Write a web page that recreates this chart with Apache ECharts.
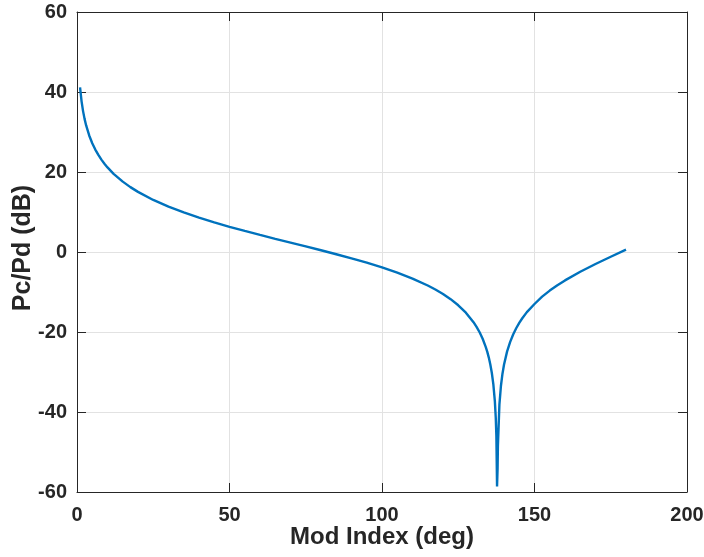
<!DOCTYPE html>
<html>
<head>
<meta charset="utf-8">
<script src="https://cdn.jsdelivr.net/npm/echarts@6/dist/echarts.min.js"></script>
<style>
  html, body { margin: 0; padding: 0; background: #ffffff; }
  #chart { width: 704px; height: 557px; }
</style>
</head>
<body>
<div id="chart"></div>
<script>
// Carrier-to-data power ratio versus modulation index
const modIndexDeg = [
  1, 1.5, 2, 2.5, 3, 4, 5, 6, 7, 8, 9, 10, 12, 15, 17.5, 20, 25, 30, 35, 40,
  45, 50, 55, 60, 65, 70, 75, 80, 85, 90, 95, 100, 105, 110, 115, 117.5, 120, 122.5, 125,
  127.5, 130, 131, 132, 133, 134, 134.5, 135, 135.5, 136, 136.5, 137, 137.3, 137.5, 137.72,
  137.9, 138, 138.5, 139, 139.5, 140, 141, 142, 143, 144, 145, 146, 147.5, 150, 152.5, 155,
  157.5, 160, 165, 170, 175, 180
];
const ratioDb = [
  41.18, 37.66, 35.16, 33.22, 31.64, 29.14, 27.19, 25.61, 24.27, 23.10, 22.07, 21.15, 19.55, 17.59, 16.22, 15.03, 13.01, 11.33, 9.88, 8.58,
  7.40, 6.30, 5.27, 4.27, 3.30, 2.35, 1.40, 0.43, -0.56, -1.59, -2.68, -3.86, -5.17, -6.64, -8.37, -9.38, -10.50, -11.79, -13.32,
  -15.17, -17.54, -18.71, -20.07, -21.70, -23.71, -24.92, -26.34, -28.05, -30.18, -33.01, -37.27, -41.44, -46.03, -58.6,
  -54.05, -48.56, -38.07, -33.44, -30.43, -28.19, -24.91, -22.52, -20.63, -19.07, -17.73, -16.56, -15.03, -13.00, -11.17, -9.65,
  -8.32, -7.10, -4.94, -3.00, -1.18, 0.58
];

const xTicks = { min: 0, max: 200, step: 50 };
const yTicks = { min: -60, max: 60, step: 20 };

const axisInk = '#262626';
const gridInk = '#e2e2e2';
const font = 'Liberation Sans, Arial, Helvetica, sans-serif';

const points = modIndexDeg.map((d, i) => [d, ratioDb[i]]);

const chart = echarts.init(document.getElementById('chart'), null, { renderer: 'canvas' });

const tickStyle = { show: true, inside: true, length: 9, lineStyle: { color: axisInk, width: 1 } };

chart.setOption({
  animation: false,
  backgroundColor: '#ffffff',
  grid: { left: 77, right: 17, top: 12, bottom: 65, containLabel: false, outerBoundsMode: 'none' },
  xAxis: [
    {
      type: 'value',
      min: xTicks.min, max: xTicks.max, interval: xTicks.step,
      name: 'Mod Index (deg)',
      nameLocation: 'middle',
      nameGap: 33,
      nameMoveOverlap: false,
      nameTextStyle: { fontFamily: font, fontWeight: 'bold', fontSize: 24, color: axisInk },
      axisLine: { show: true, onZero: false, lineStyle: { color: axisInk, width: 1 } },
      axisTick: tickStyle,
      axisLabel: { margin: 13, fontFamily: font, fontWeight: 'bold', fontSize: 20, color: axisInk },
      splitLine: { show: true, lineStyle: { color: gridInk, width: 1 } }
    },
    {
      type: 'value', position: 'top',
      min: xTicks.min, max: xTicks.max, interval: xTicks.step,
      axisLine: { show: true, onZero: false, lineStyle: { color: axisInk, width: 1 } },
      axisTick: tickStyle,
      axisLabel: { show: false },
      splitLine: { show: false }
    }
  ],
  yAxis: [
    {
      type: 'value',
      min: yTicks.min, max: yTicks.max, interval: yTicks.step,
      name: 'Pc/Pd (dB)',
      nameLocation: 'middle',
      nameGap: 41,
      nameMoveOverlap: false,
      nameTextStyle: { fontFamily: font, fontWeight: 'bold', fontSize: 25, color: axisInk, padding: [0, 0, 0, 8] },
      axisLine: { show: true, onZero: false, lineStyle: { color: axisInk, width: 1 } },
      axisTick: tickStyle,
      axisLabel: { margin: 10, fontFamily: font, fontWeight: 'bold', fontSize: 20, color: axisInk },
      splitLine: { show: true, lineStyle: { color: gridInk, width: 1 } }
    },
    {
      type: 'value', position: 'right',
      min: yTicks.min, max: yTicks.max, interval: yTicks.step,
      axisLine: { show: true, onZero: false, lineStyle: { color: axisInk, width: 1 } },
      axisTick: tickStyle,
      axisLabel: { show: false },
      splitLine: { show: false }
    }
  ],
  series: [
    {
      type: 'line',
      data: points,
      xAxisIndex: 0, yAxisIndex: 0,
      showSymbol: false,
      smooth: false,
      lineStyle: { color: '#0072BD', width: 2.4 },
      z: 3
    }
  ]
});
</script>
</body>
</html>
